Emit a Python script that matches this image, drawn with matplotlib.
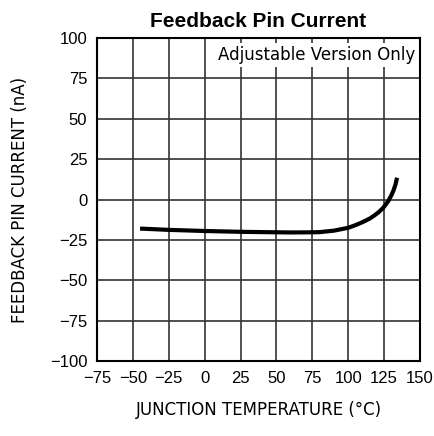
import matplotlib.pyplot as plt
import numpy as np

# junction temperature (C) and feedback pin current (nA)
temp = [-45, -25, 0, 25, 50, 60, 75, 80, 90, 100, 105, 110, 115, 118, 121,
        124, 126, 128, 130, 131.5, 133, 134]
current = [-18.0, -18.8, -19.5, -20.0, -20.3, -20.4, -20.3, -20.2, -19.3,
           -17.5, -15.9, -14.0, -11.8, -10.0, -8.0, -5.5, -3.3, -0.8, 2.5,
           5.5, 9.5, 13.5]

xticks = np.arange(-75, 151, 25)
yticks = np.arange(-100, 101, 25)

fig = plt.figure(figsize=(4.35, 4.36), dpi=100)
ax = fig.add_axes([0.223, 0.172, 0.7425, 0.7408])

ax.plot(temp, current, color="k", lw=3.0, solid_capstyle="butt",
        solid_joinstyle="round", zorder=4)

ax.set_xlim(-75, 150)
ax.set_ylim(-100, 100)
ax.set_xticks(xticks)
ax.set_yticks(yticks)
ax.set_xticklabels([str(t).replace("-", "\u2212") for t in xticks],
                   family="Liberation Sans")
ax.set_yticklabels([str(t).replace("-", "\u2212") for t in yticks],
                   family="Liberation Sans")
ax.tick_params(length=0, pad=7, labelsize=12)
ax.grid(True, color="#333333", lw=1.2)
ax.set_axisbelow(True)
for s in ax.spines.values():
    s.set_linewidth(1.5)

ax.set_xlabel("JUNCTION TEMPERATURE (°C)", fontsize=12, labelpad=11)
ax.set_ylabel("FEEDBACK PIN CURRENT (nA)", fontsize=12, labelpad=15)
ax.set_title("Feedback Pin Current", fontsize=15, fontweight="bold",
             family="Liberation Sans", pad=8)

ax.text(0.985, 0.975, "Adjustable Version Only", transform=ax.transAxes,
        ha="right", va="top", fontsize=12, zorder=3,
        bbox=dict(facecolor="white", edgecolor="none", pad=2))

fig.savefig("out.png")
